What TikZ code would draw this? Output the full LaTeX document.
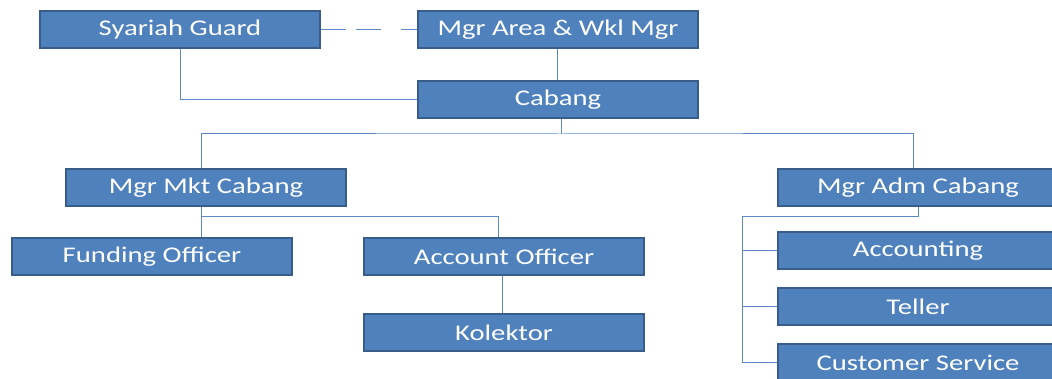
\documentclass[tikz,border=0pt]{standalone}
\usepackage{fontspec}
\newfontfamily\boxfont[FakeStretch=1.28]{Carlito}
\definecolor{boxfill}{HTML}{4F81BD}
\definecolor{boxline}{HTML}{385D8A}
\definecolor{wire}{HTML}{5B8AC6}
\tikzset{
  orgbox/.style={draw=boxline, line width=2pt, fill=boxfill, text=white,
    minimum width=280pt, minimum height=37pt, inner sep=0pt, anchor=north west,
    font=\boxfont\fontsize{22.4}{25}\selectfont},
  wireline/.style={draw=wire, line width=1pt},
}
\begin{document}
\begin{tikzpicture}[x=1pt, y=-1pt]
\useasboundingbox (0,0) rectangle (1052,379);
\begin{scope}
\clip (0,0) rectangle (1052,379);
% top row
\node[orgbox] (guard) at (39,10) {Syariah Guard};
\node[orgbox] (area)  at (417,10) {Mgr Area \& Wkl Mgr};
\node[orgbox] (cabang) at (417,80) {Cabang};
% managers
\node[orgbox] (mkt) at (65,168) {Mgr Mkt Cabang};
\node[orgbox] (adm) at (777,168) {Mgr Adm Cabang};
% marketing staff
\node[orgbox] (funding) at (11,237) {Funding Officer};
\node[orgbox] (account) at (363,237) {Account Officer};
\node[orgbox] (kolektor) at (363,313) {Kolektor};
% administration staff
\node[orgbox] (acct)   at (777,231) {Accounting};
\node[orgbox] (teller) at (777,287) {Teller};
\node[orgbox] (cs)     at (777,343) {Customer Service};

% coordinates for the elbow connectors
\coordinate (busTop) at (561,134);
\coordinate (busMkt) at (201,217);
\coordinate (busAdm) at (742,217);

% dashed link between guard and area manager
\draw[wireline, dash pattern=on 25pt off 10pt on 25pt off 20pt] (guard.east) -- (area.west);
\draw[wireline] (guard.south) |- (cabang.west);
\draw[wireline] (area.south -| 557,0) -- (cabang.north -| 557,0);
% cabang to both managers
\draw[wireline] (cabang.south -| busTop) -- (busTop);
\draw[wireline] (mkt.north -| 201,0) |- (busTop) -| (adm.north -| 913,0);
% marketing branch
\draw[wireline] (mkt.south -| busMkt) -- (funding.north -| busMkt);
\draw[wireline] (busMkt) -| (account.north -| 498,0);
\draw[wireline] (account.south -| 502,0) -- (kolektor.north -| 502,0);
% administration branch
\draw[wireline] (adm.south -| 918,0) |- (busAdm) |- (cs.west);
\draw[wireline] (busAdm |- acct.west) -- (acct.west);
\draw[wireline] (busAdm |- teller.west) -- (teller.west);
\end{scope}
\end{tikzpicture}
\end{document}
